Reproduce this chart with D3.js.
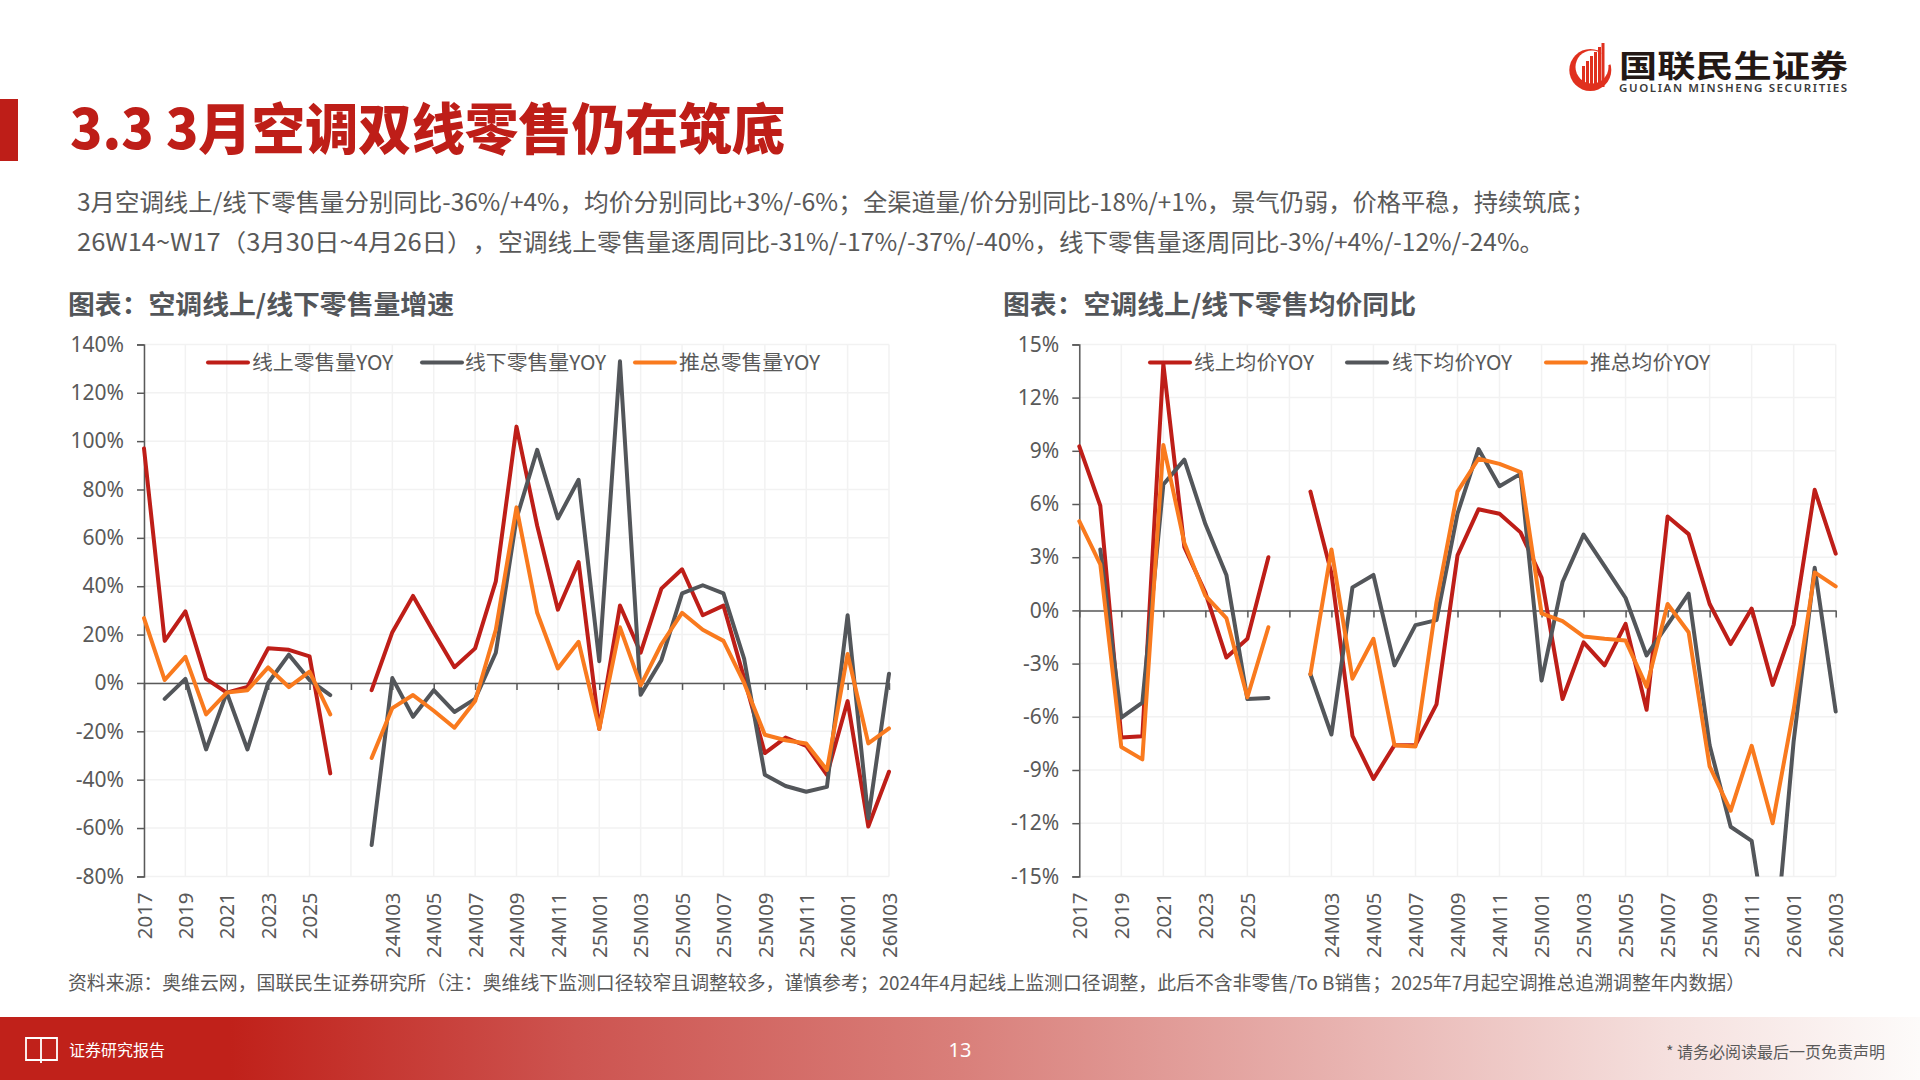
<!DOCTYPE html>
<html lang="zh-CN">
<head>
<meta charset="utf-8">
<title>3.3 3月空调双线零售仍在筑底</title>
<script src="https://cdn.jsdelivr.net/npm/d3@7/dist/d3.min.js"></script>
<style>
  html, body { margin: 0; padding: 0; background: #fff; }
  svg { display: block; }
  text { font-family: "Noto Sans", "Noto Sans CJK SC", sans-serif; text-spacing-trim: space-all; }
  .cjk { font-family: "Noto Sans CJK SC", "Noto Sans", sans-serif; }
</style>
</head>
<body>
<svg id="slide" width="1920" height="1080" viewBox="0 0 1920 1080"></svg>
<script>
// Shared category axis: annual points, a gap, then monthly points
const categories = [
  "2017","2018","2019","2020","2021","2022","2023","2024","2025","2026","",
  "24M02","24M03","24M04","24M05","24M06","24M07","24M08","24M09","24M10","24M11","24M12",
  "25M01","25M02","25M03","25M04","25M05","25M06","25M07","25M08","25M09","25M10","25M11","25M12",
  "26M01","26M02","26M03"
];

// Retail volume YOY, %
const volumeOnline = [97,17.4,29.6,1.7,-4,-1.7,14.3,13.7,11,-37.4,null,
  -3,21,36,21,6.5,14.3,42,106,65,30.3,50,-19,32,12.5,39,47,28,32,2,-29,-22.6,-26,-38,-7.5,-59.4,-36.7];
const volumeOffline = [null,-6.6,1.7,-27.5,-4,-27.5,0,11.7,1.2,-5,null,
  -67,2,-14,-3,-12,-6.6,12.5,68,96.4,68,84,9,133,-4.9,9.4,37,40.4,37,10,-38,-42.6,-45,-43,28,-56,3.8];
const volumeTotal = [26.8,1.2,10.8,-13,-4,-3,6.4,-1.7,4.7,-13,null,
  -31,-10.4,-5,-11.5,-18.5,-7.5,22,72.6,29,6,17,-19,23,-1,16,29,22,17.4,0,-21.4,-23.7,-25,-36,12,-25,-18.8];

// Average price YOY, %
const priceOnline = [9.25,5.9,-7.17,-7.1,13.9,3.56,1,-2.66,-1.6,3,null,
  6.7,2.1,-7.07,-9.5,-7.6,-7.6,-5.3,3.1,5.7,5.45,4.4,1.85,-5,-1.8,-3.1,-0.76,-5.6,5.3,4.3,0.36,-1.9,0.1,-4.2,-0.8,6.8,3.2];
const priceOffline = [null,3.44,-6.05,-5.2,7.1,8.5,4.87,2,-5,-4.94,null,
  -3.6,-7,1.3,2,-3.1,-0.83,-0.55,5.46,9.1,7,7.7,-3.96,1.6,4.27,2.5,0.7,-2.54,-0.8,0.95,-7.6,-12.2,-13,-20.5,-7.36,2.4,-5.7];
const priceTotal = [5.03,2.6,-7.7,-8.4,9.33,3.8,0.83,-0.43,-4.9,-0.95,null,
  -3.6,3.44,-3.85,-1.6,-7.6,-7.67,0.47,6.7,8.55,8.26,7.8,-0.17,-0.6,-1.47,-1.6,-1.7,-4.3,0.36,-1.23,-8.8,-11.3,-7.64,-12,-5.6,2.14,1.35];

const volumeTicks = [-80,-60,-40,-20,0,20,40,60,80,100,120,140];
const priceTicks = [-15,-12,-9,-6,-3,0,3,6,9,12,15];

const RED = "#BE1E18", GRAY = "#53565A", ORANGE = "#F97A1E", TEXT = "#595959";

const svg = d3.select("#slide");

// Panel definitions: frame, value scale and legend placement
const panels = [
  {
    id: "volume", x0: 144, x1: 889, domain: [-80, 140], ticks: volumeTicks, legendLen: 141,
    series: [
      { name: "线上零售量YOY", values: volumeOnline, color: RED, lx: 208, tx: 252 },
      { name: "线下零售量YOY", values: volumeOffline, color: GRAY, lx: 422, tx: 465 },
      { name: "推总零售量YOY", values: volumeTotal, color: ORANGE, lx: 635, tx: 679 }
    ]
  },
  {
    id: "price", x0: 1079.3, x1: 1835.7, domain: [-15, 15], ticks: priceTicks, legendLen: 120,
    series: [
      { name: "线上均价YOY", values: priceOnline, color: RED, lx: 1150, tx: 1194 },
      { name: "线下均价YOY", values: priceOffline, color: GRAY, lx: 1347, tx: 1392 },
      { name: "推总均价YOY", values: priceTotal, color: ORANGE, lx: 1546, tx: 1590 }
    ]
  }
];

const PLOT_TOP = 344.4, PLOT_BOTTOM = 876.4;
const defs = svg.append("defs");

panels.forEach(p => {
  const x = d3.scalePoint().domain(d3.range(categories.length)).range([p.x0, p.x1]);
  const y = d3.scaleLinear().domain(p.domain).range([PLOT_BOTTOM, PLOT_TOP]);
  const major = d3.range(0, categories.length, 2);
  const g = svg.append("g").attr("class", "panel-" + p.id);

  // Light grid
  g.append("g").selectAll("line").data(p.ticks).join("line")
    .attr("x1", p.x0).attr("x2", p.x1)
    .attr("y1", d => y(d)).attr("y2", d => y(d))
    .attr("stroke", "#F2F2F2").attr("stroke-width", 1.5);
  g.append("g").selectAll("line").data(major).join("line")
    .attr("x1", d => x(d)).attr("x2", d => x(d))
    .attr("y1", PLOT_TOP).attr("y2", PLOT_BOTTOM)
    .attr("stroke", "#F2F2F2").attr("stroke-width", 1.5);

  // Value axis
  const yAxis = g.append("g")
    .attr("transform", `translate(${p.x0},0)`)
    .call(d3.axisLeft(y).tickValues(p.ticks).tickFormat(d => d + "%").tickSize(7).tickPadding(13));
  yAxis.select(".domain").attr("stroke", TEXT).attr("stroke-width", 1.5);
  yAxis.selectAll("line").attr("stroke", TEXT).attr("stroke-width", 1.5);
  yAxis.selectAll("text").attr("fill", TEXT).style("font-size", "21px");

  // Zero line with its tick marks
  const zeroAxis = g.append("g")
    .attr("transform", `translate(0,${y(0)})`)
    .call(d3.axisBottom(x).tickValues(major).tickFormat("").tickSizeInner(7).tickSizeOuter(0));
  zeroAxis.select(".domain").attr("stroke", TEXT).attr("stroke-width", 1.5);
  zeroAxis.selectAll("line").attr("stroke", TEXT).attr("stroke-width", 1.5);

  // Category labels sit below the frame, turned upright
  const labelAxis = g.append("g")
    .attr("transform", `translate(0,${PLOT_BOTTOM})`)
    .call(d3.axisBottom(x).tickValues(major).tickFormat(i => categories[i]).tickSize(0));
  labelAxis.select(".domain").remove();
  labelAxis.selectAll("text")
    .attr("transform", "rotate(-90)")
    .attr("x", -16).attr("y", 0).attr("dy", "0.35em")
    .attr("text-anchor", "end")
    .attr("fill", TEXT)
    .style("font-size", "20.5px");

  // Series lines are cut off at the bottom of the value range
  defs.append("clipPath").attr("id", "clip-" + p.id).append("rect")
    .attr("x", p.x0 - 6).attr("y", PLOT_TOP - 6)
    .attr("width", p.x1 - p.x0 + 12).attr("height", PLOT_BOTTOM - PLOT_TOP + 6);

  const line = d3.line()
    .defined(d => d != null)
    .x((d, i) => x(i))
    .y(d => y(d));

  const lines = g.append("g").attr("clip-path", `url(#clip-${p.id})`);
  p.series.forEach(s => {
    lines.append("path")
      .attr("d", line(s.values))
      .attr("fill", "none")
      .attr("stroke", s.color)
      .attr("stroke-width", 4)
      .attr("stroke-linejoin", "round")
      .attr("stroke-linecap", "round");
  });

  // Legend
  p.series.forEach(s => {
    g.append("line")
      .attr("x1", s.lx).attr("x2", s.lx + 40)
      .attr("y1", 362.5).attr("y2", 362.5)
      .attr("stroke", s.color).attr("stroke-width", 4).attr("stroke-linecap", "round");
    g.append("text").attr("class", "cjk")
      .attr("x", s.tx).attr("y", 362.5).attr("dy", "0.36em")
      .attr("textLength", p.legendLen).attr("lengthAdjust", "spacingAndGlyphs")
      .attr("fill", TEXT).style("font-size", "20px")
      .text(s.name);
  });
});

// Slide heading and accent block
svg.append("rect").attr("x", 0).attr("y", 99).attr("width", 18).attr("height", 62).attr("fill", RED);
svg.append("text").attr("class", "cjk")
  .attr("x", 70).attr("y", 149)
  .attr("textLength", 715).attr("lengthAdjust", "spacingAndGlyphs")
  .attr("fill", RED).style("font-size", "55px").style("font-weight", 900)
  .text("3.3 3月空调双线零售仍在筑底");

// Summary paragraph, set clause by clause
const summary = [
  { text: "3月空调线上/线下零售量分别同比-36%/+4%，", x: 77, y: 202, len: 507 },
  { text: "均价分别同比+3%/-6%；", x: 584, y: 202, len: 279 },
  { text: "全渠道量/价分别同比-18%/+1%，景气仍弱，价格平稳，持续筑底；", x: 863, y: 202, len: 732 },
  { text: "26W14~W17（3月30日~4月26日），", x: 77, y: 242, len: 421 },
  { text: "空调线上零售量逐周同比-31%/-17%/-37%/-40%，", x: 498, y: 242, len: 561 },
  { text: "线下零售量逐周同比-3%/+4%/-12%/-24%。", x: 1059, y: 242, len: 485 }
];
svg.selectAll("text.summary").data(summary).join("text")
  .attr("class", "summary cjk")
  .attr("x", d => d.x).attr("y", d => d.y).attr("dy", "0.36em")
  .attr("textLength", d => d.len).attr("lengthAdjust", "spacingAndGlyphs")
  .attr("fill", TEXT).style("font-size", "24px")
  .text(d => d.text);

// Chart headings
[{ t: "图表：空调线上/线下零售量增速", x: 68, len: 386 },
 { t: "图表：空调线上/线下零售均价同比", x: 1003, len: 413 }].forEach(h => {
  svg.append("text").attr("class", "cjk")
    .attr("x", h.x).attr("y", 305).attr("dy", "0.36em")
    .attr("textLength", h.len).attr("lengthAdjust", "spacingAndGlyphs")
    .attr("fill", GRAY).style("font-size", "26px").style("font-weight", 700)
    .text(h.t);
});

// Source note
svg.append("text").attr("class", "cjk")
  .attr("x", 68).attr("y", 983).attr("dy", "0.36em")
  .attr("textLength", 1677).attr("lengthAdjust", "spacingAndGlyphs")
  .attr("fill", TEXT).style("font-size", "19px")
  .text("资料来源：奥维云网，国联民生证券研究所（注：奥维线下监测口径较窄且调整较多，谨慎参考；2024年4月起线上监测口径调整，此后不含非零售/To B销售；2025年7月起空调推总追溯调整年内数据）");

// Footer band
const grad = defs.append("linearGradient").attr("id", "footerFade");
[[0.12,"#C0211A"],[0.30,"#CD5450"],[0.50,"#D97F7A"],[0.70,"#E8B3B0"],[0.87,"#F5E0DE"],[1,"#FDFBFA"]]
  .forEach(([o, c]) => grad.append("stop").attr("offset", o).attr("stop-color", c));
svg.append("rect").attr("x", 0).attr("y", 1017).attr("width", 1920).attr("height", 63).attr("fill", "url(#footerFade)");

// Open-book icon
svg.append("path")
  .attr("d", "M26 1038 H41 V1060 H26 Z M41 1038 H57 V1060 H41 M41 1060 V1063")
  .attr("fill", "none").attr("stroke", "#fff").attr("stroke-width", 1.8);

svg.append("text").attr("class", "cjk").attr("x", 69).attr("y", 1050).attr("dy", "0.36em")
  .attr("fill", "#fff").style("font-size", "16px").text("证券研究报告");
svg.append("text").attr("x", 960).attr("y", 1050).attr("dy", "0.36em").attr("text-anchor", "middle")
  .attr("fill", "#fff").style("font-size", "20px").text("13");
svg.append("text").attr("class", "cjk").attr("x", 1885).attr("y", 1052).attr("dy", "0.36em").attr("text-anchor", "end")
  .attr("fill", TEXT).style("font-size", "16px").text("* 请务必阅读最后一页免责声明");

// Company mark: open red ring with rising vertical bars
const logo = svg.append("g").attr("class", "logo");
logo.append("circle").attr("cx", 1590.3).attr("cy", 70).attr("r", 21).attr("fill", "#E0301E");
logo.append("circle").attr("cx", 1592).attr("cy", 67).attr("r", 16.5).attr("fill", "#fff");
logo.append("path").attr("d", "M1598 44 L1614 44 L1614 63 L1606 66 Z").attr("fill", "#fff");
const barTops = [[1582,66],[1586,61],[1590,56],[1594,52],[1598,47],[1601.5,43]];
barTops.forEach(([bx, top]) => {
  logo.append("rect").attr("x", bx).attr("y", top).attr("width", 3)
    .attr("height", 87 - top).attr("fill", "#E0301E");
});
logo.append("text").attr("class", "cjk")
  .attr("x", 1619).attr("y", 77)
  .attr("textLength", 229).attr("lengthAdjust", "spacingAndGlyphs")
  .attr("fill", "#231815").style("font-size", "31px").style("font-weight", 700)
  .text("国联民生证券");
logo.append("text")
  .attr("x", 1619).attr("y", 92)
  .attr("textLength", 228)
  .attr("fill", "#3A3A3A").style("font-size", "11.5px").style("font-weight", 600)
  .text("GUOLIAN MINSHENG SECURITIES");
</script>
</body>
</html>
